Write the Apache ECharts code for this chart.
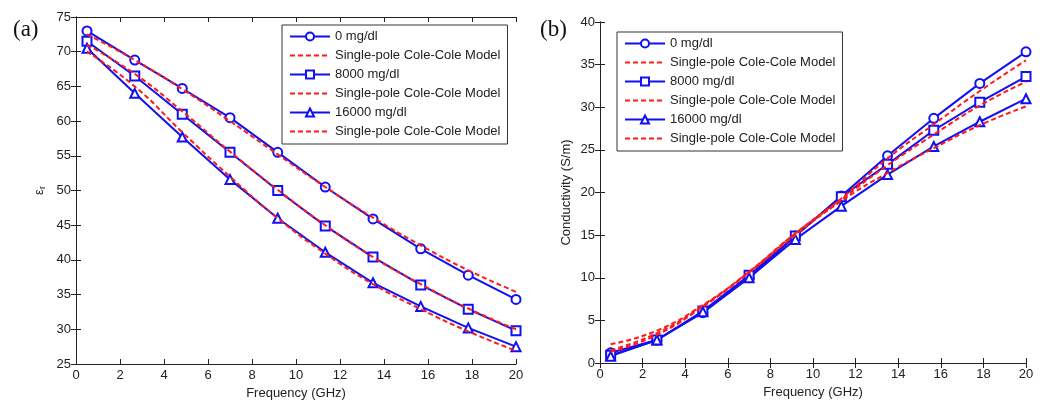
<!DOCTYPE html>
<html>
<head>
<meta charset="utf-8">
<script src="https://cdn.jsdelivr.net/npm/echarts@6/dist/echarts.min.js"></script>
<style>
  html, body { margin: 0; padding: 0; background: #fff; }
  #main { width: 1051px; height: 401px; }
</style>
</head>
<body>
<div id="main"></div>
<script>
// frequency points (GHz)
const freq = [0.5, 2.67, 4.83, 7, 9.17, 11.33, 13.5, 15.67, 17.83, 20]

// (a) relative permittivity
const epsMeas0 = [73.0, 68.8, 64.7, 60.5, 55.5, 50.5, 45.9, 41.6, 37.8, 34.3]
const epsModel0 = [72.5, 68.8, 64.6, 60.0, 55.2, 50.5, 46.1, 42.1, 38.5, 35.4]
const epsMeas8000 = [71.5, 66.5, 61.0, 55.5, 50.0, 44.9, 40.4, 36.4, 32.9, 29.8]
const epsModel8000 = [71.0, 66.8, 61.4, 55.6, 50.1, 45.0, 40.4, 36.5, 33.0, 30.0]
const epsMeas16000 = [70.5, 64.0, 57.7, 51.6, 46.0, 41.1, 36.7, 33.3, 30.2, 27.5]
const epsModel16000 = [70.0, 65.0, 58.4, 52.0, 46.0, 40.9, 36.5, 32.9, 29.7, 26.9]

// (b) conductivity (S/m)
const sigMeas0 = [1.2, 2.7, 5.9, 10.0, 14.9, 19.6, 24.3, 28.7, 32.8, 36.5]
const sigModel0 = [2.2, 3.8, 6.8, 10.7, 15.2, 19.3, 24.0, 28.0, 31.9, 35.5]
const sigMeas8000 = [0.9, 2.7, 6.1, 10.3, 14.9, 19.5, 23.3, 27.3, 30.6, 33.6]
const sigModel8000 = [1.5, 3.5, 6.7, 10.7, 15.2, 19.2, 23.2, 26.8, 30.2, 33.0]
const sigMeas16000 = [0.8, 2.7, 6.0, 10.0, 14.5, 18.4, 22.1, 25.4, 28.3, 31.0]
const sigModel16000 = [1.3, 3.3, 6.6, 10.6, 15.0, 19.0, 22.3, 25.2, 27.9, 30.1]

const xTicks = { min: 0, max: 20, interval: 2 }

// 图例：模型曲线只画虚线，不画点
const legendNames = [
  '0 mg/dl',
  { name: 'm1', itemStyle: { opacity: 0 } },
  '8000 mg/dl',
  { name: 'm2', itemStyle: { opacity: 0 } },
  '16000 mg/dl',
  { name: 'm3', itemStyle: { opacity: 0 } }
]

function pairs(ys) {
  return freq.map((f, i) => [f, ys[i]])
}

function measured(name, sym, ys, grid) {
  return {
    name: name,
    type: 'line',
    xAxisIndex: grid * 2,
    yAxisIndex: grid * 2,
    data: pairs(ys),
    symbol: sym,
    symbolSize: 9,
    color: '#1010f0',
    lineStyle: { width: 2, color: '#1010f0' },
    itemStyle: { color: '#1010f0', borderWidth: 1.5 },
    emphasis: { disabled: true },
    animation: false,
    z: 2
  }
}

function model(name, ys, grid) {
  return {
    name: name,
    type: 'line',
    xAxisIndex: grid * 2,
    yAxisIndex: grid * 2,
    data: pairs(ys),
    smooth: true,
    showSymbol: false,
    symbol: 'none',
    color: '#ff1a1a',
    lineStyle: { width: 2, type: [5, 3], color: '#ff1a1a' },
    emphasis: { disabled: true },
    animation: false,
    z: 3
  }
}

const tickFont = { color: '#222', fontSize: 13, fontFamily: 'Liberation Sans' }
const nameFont = { color: '#222', fontSize: 13, fontFamily: 'Liberation Sans' }
const lineCol = '#222'

function xAxes(grid) {
  return [
    Object.assign({
      type: 'value', gridIndex: grid, position: 'bottom',
      name: 'Frequency (GHz)', nameLocation: 'middle', nameGap: 21,
      nameTextStyle: nameFont,
      axisLine: { show: true, lineStyle: { color: lineCol } },
      axisTick: { show: true, inside: true, length: 5, lineStyle: { color: lineCol } },
      axisLabel: Object.assign({ margin: 5 }, tickFont),
      splitLine: { show: false }
    }, xTicks),
    Object.assign({
      type: 'value', gridIndex: grid, position: 'top',
      axisLine: { show: true, lineStyle: { color: lineCol } },
      axisTick: { show: true, inside: true, length: 5, lineStyle: { color: lineCol } },
      axisLabel: { show: false },
      splitLine: { show: false }
    }, xTicks)
  ]
}

function yAxes(grid, min, max, name, nameGap, nameText) {
  return [
    {
      type: 'value', gridIndex: grid, position: 'left', min: min, max: max, interval: 5,
      name: name, nameLocation: 'middle', nameGap: nameGap, nameRotate: 90,
      nameTextStyle: nameText,
      axisLine: { show: true, lineStyle: { color: lineCol } },
      axisTick: { show: true, inside: true, length: 5, lineStyle: { color: lineCol } },
      axisLabel: Object.assign({ margin: 5 }, tickFont),
      splitLine: { show: false }
    },
    {
      type: 'value', gridIndex: grid, position: 'right', min: min, max: max, interval: 5,
      axisLine: { show: true, lineStyle: { color: lineCol } },
      axisTick: { show: true, inside: true, length: 5, lineStyle: { color: lineCol } },
      axisLabel: { show: false },
      splitLine: { show: false }
    }
  ]
}

function legendAt(left, top) {
  return {
    left: left, top: top,
    orient: 'vertical',
    data: legendNames,
    selectedMode: false,
    itemWidth: 40, itemHeight: 10, itemGap: 6,
    padding: [5, 7, 6, 7],
    borderColor: '#333', borderWidth: 1, backgroundColor: '#fff',
    textStyle: { color: '#222', fontSize: 13, fontFamily: 'Liberation Sans' },
    formatter: function (n) {
      return n.charAt(0) === 'm' ? 'Single-pole Cole-Cole Model' : n
    }
  }
}

let myChart = echarts.init(document.getElementById('main'), null, { renderer: 'canvas' })

myChart.setOption({
  backgroundColor: '#fff',
  animation: false,
  grid: [
    { left: 76, top: 17, width: 440, height: 347, outerBoundsMode: 'none' },
    { left: 600, top: 22, width: 426, height: 341, outerBoundsMode: 'none' }
  ],
  graphic: [
    { type: 'text', left: 13, top: 18, style: { text: '(a)', fontSize: 23, fontFamily: 'Liberation Serif', fill: '#111' } },
    { type: 'text', left: 540, top: 18, style: { text: '(b)', fontSize: 23, fontFamily: 'Liberation Serif', fill: '#111' } }
  ],
  legend: [legendAt(282, 25), legendAt(617, 32)],
  xAxis: xAxes(0).concat(xAxes(1)),
  yAxis: yAxes(0, 25, 75, 'ε{sub|r}', 29, {
    color: '#222', fontSize: 13, fontFamily: 'Liberation Sans',
    rich: { sub: { fontSize: 9, verticalAlign: 'bottom', padding: [6, 0, 0, 0], fontFamily: 'Liberation Sans', color: '#222' } }
  }).concat(yAxes(1, 0, 40, 'Conductivity (S/m)', 27, nameFont)),
  series: [
    measured('0 mg/dl', 'emptyCircle', epsMeas0, 0),
    model('m1', epsModel0, 0),
    measured('8000 mg/dl', 'emptyRect', epsMeas8000, 0),
    model('m2', epsModel8000, 0),
    measured('16000 mg/dl', 'emptyTriangle', epsMeas16000, 0),
    model('m3', epsModel16000, 0),
    measured('0 mg/dl', 'emptyCircle', sigMeas0, 1),
    model('m1', sigModel0, 1),
    measured('8000 mg/dl', 'emptyRect', sigMeas8000, 1),
    model('m2', sigModel8000, 1),
    measured('16000 mg/dl', 'emptyTriangle', sigMeas16000, 1),
    model('m3', sigModel16000, 1)
  ]
})
</script>
</body>
</html>
